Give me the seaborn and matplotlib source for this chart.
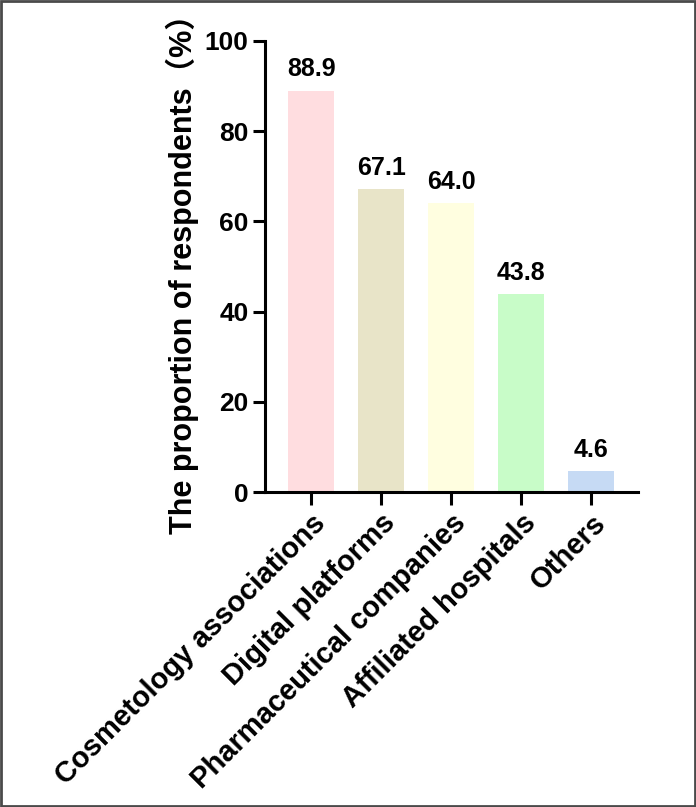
import matplotlib
matplotlib.use("Agg")
import matplotlib.pyplot as plt
import seaborn as sns
import pandas as pd
from matplotlib.patches import Rectangle

# data
categories = ["Cosmetology associations", "Digital platforms", "Pharmaceutical companies",
              "Affiliated hospitals", "Others"]
proportions = [88.9, 67.1, 64.0, 43.8, 4.6]
bar_colors = ["#FFDDE0", "#E8E4C8", "#FFFEE0", "#C8FCC8", "#C6DAF4"]
y_ticks = [0, 20, 40, 60, 80, 100]

df = pd.DataFrame({"source": categories, "pct": proportions})

sns.set_style("ticks")
plt.rcParams["font.family"] = ["Liberation Sans", "Noto Sans CJK SC", "DejaVu Sans"]
plt.rcParams["font.weight"] = "bold"
for key in ["text.color", "axes.labelcolor", "xtick.color", "ytick.color"]:
    plt.rcParams[key] = "black"

fig = plt.figure(figsize=(6.96, 8.07), dpi=100)
ax = fig.add_axes([0.381, 0.3903, 0.536, 0.559])

sns.barplot(data=df, x="source", y="pct", hue="source", palette=bar_colors,
            width=0.657, legend=False, ax=ax, saturation=1, edgecolor="none")

for i, v in enumerate(proportions):
    ax.annotate(f"{v:.1f}", xy=(i, v), xytext=(0, 7), textcoords="offset points",
                ha="center", va="bottom", fontsize=18, fontweight="bold", color="black")

ax.set_xlim(-0.657, 4.67)
ax.set_ylim(0, 100)
ax.set_yticks(y_ticks)
ax.set_xlabel("")
ax.set_ylabel("The proportion of respondents（%）", fontsize=22, fontweight="bold",
              labelpad=4, color="black")

ax.set_xticks(range(len(categories)))
ax.set_xticklabels(categories, rotation=45, ha="right", rotation_mode="anchor",
                   fontsize=21, fontweight="bold")
for lab in ax.get_yticklabels():
    lab.set_fontsize(19)
    lab.set_fontweight("bold")

ax.tick_params(axis="both", length=9, width=2.2, color="black", labelcolor="black", pad=3)
sns.despine(ax=ax)
for side in ["left", "bottom"]:
    ax.spines[side].set_linewidth(2.2)
    ax.spines[side].set_color("black")

# thin grey frame around the whole picture
fig.patches.append(Rectangle((0.0015, 0.0015), 0.997, 0.997, transform=fig.transFigure,
                             fill=False, edgecolor="#4a4a4a", linewidth=2))

fig.savefig("out.png", dpi=100)
